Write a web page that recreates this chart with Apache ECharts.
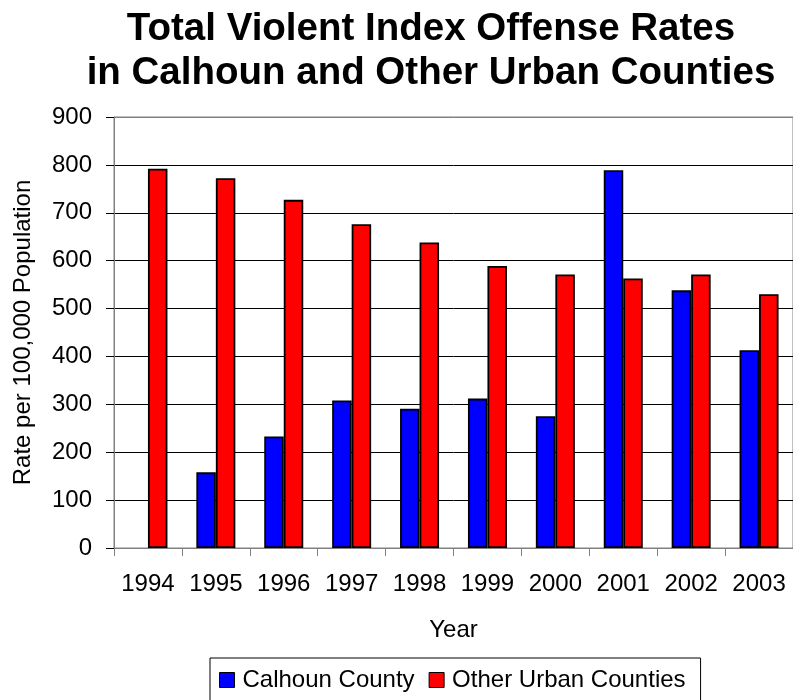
<!DOCTYPE html>
<html>
<head>
<meta charset="utf-8">
<title>Total Violent Index Offense Rates</title>
<script src="https://cdn.jsdelivr.net/npm/echarts@6/dist/echarts.min.js"></script>
<style>
  html, body { margin: 0; padding: 0; background: #fff; }
  #chart { width: 793px; height: 700px; }
</style>
</head>
<body>
<div id="chart"></div>
<script>
// Violent index offense rates per 100,000 population, 1994-2003
const years = ['1994', '1995', '1996', '1997', '1998', '1999', '2000', '2001', '2002', '2003'];
const calhounCounty = [null, 158, 233, 308, 291, 312, 275, 789, 538, 413];
const otherUrbanCounties = [792, 772, 727, 676, 638, 589, 571, 563, 571, 530];
const yTicks = [0, 100, 200, 300, 400, 500, 600, 700, 800, 900];

const FONT = '"Liberation Sans", Arial, Helvetica, sans-serif';

const chart = echarts.init(document.getElementById('chart'), null, { renderer: 'canvas' });

// gridlines are black; the top one coincides with the grey plot-area frame
const splitColors = yTicks.map((v, i) => (i === yTicks.length - 1 ? '#808080' : '#000000'));

chart.setOption({
  backgroundColor: '#ffffff',
  animation: false,
  title: {
    text: 'Total Violent Index Offense Rates\nin Calhoun and Other Urban Counties',
    left: 426,
    top: 2,
    textAlign: 'center',
    textStyle: {
      fontFamily: FONT,
      fontWeight: 'bold',
      fontSize: 38.5,
      lineHeight: 44,
      color: '#000'
    }
  },
  legend: {
    left: 210,
    top: 658,
    padding: [10, 15, 14, 9],
    borderColor: '#000',
    borderWidth: 1,
    itemWidth: 15,
    itemHeight: 15,
    itemGap: 14,
    icon: 'rect',
    itemStyle: { borderColor: '#000', borderWidth: 1 },
    textStyle: { fontFamily: FONT, fontSize: 24, color: '#000', padding: [0, 0, 0, 3] },
    data: ['Calhoun County', 'Other Urban Counties']
  },
  grid: {
    left: 114,
    top: 117,
    right: -1,
    height: 431,
    show: true,
    borderColor: '#808080',
    borderWidth: 1,
    containLabel: false
  },
  xAxis: {
    type: 'category',
    data: years,
    name: 'Year',
    nameLocation: 'middle',
    nameGap: 70,
    nameTextStyle: { fontFamily: FONT, fontSize: 24, color: '#000', verticalAlign: 'top' },
    axisLine: { lineStyle: { color: '#808080', width: 1 } },
    axisTick: { show: true, length: 8, interval: 0, lineStyle: { color: '#808080' } },
    axisLabel: { fontFamily: FONT, fontSize: 24, color: '#000', margin: 24, interval: 0 },
    splitLine: { show: false }
  },
  yAxis: {
    type: 'value',
    min: 0,
    max: 900,
    interval: 100,
    name: 'Rate per 100,000 Population',
    nameLocation: 'middle',
    nameGap: 79,
    nameTextStyle: { fontFamily: FONT, fontSize: 24, color: '#000' },
    axisLine: { show: true, lineStyle: { color: '#808080', width: 1 } },
    axisTick: { show: true, length: 8, lineStyle: { color: '#000' } },
    axisLabel: { fontFamily: FONT, fontSize: 24, color: '#000', margin: 22 },
    splitLine: { show: true, lineStyle: { color: splitColors, width: 1 } }
  },
  series: [
    {
      name: 'Calhoun County',
      type: 'bar',
      data: calhounCounty,
      barWidth: 19.5,
      barGap: '0%',
      itemStyle: { color: '#0000ff', borderColor: '#000', borderWidth: 1.8 }
    },
    {
      name: 'Other Urban Counties',
      type: 'bar',
      data: otherUrbanCounties,
      barWidth: 19.5,
      barGap: '0%',
      itemStyle: { color: '#ff0000', borderColor: '#000', borderWidth: 1.8 }
    }
  ]
});
</script>
</body>
</html>
